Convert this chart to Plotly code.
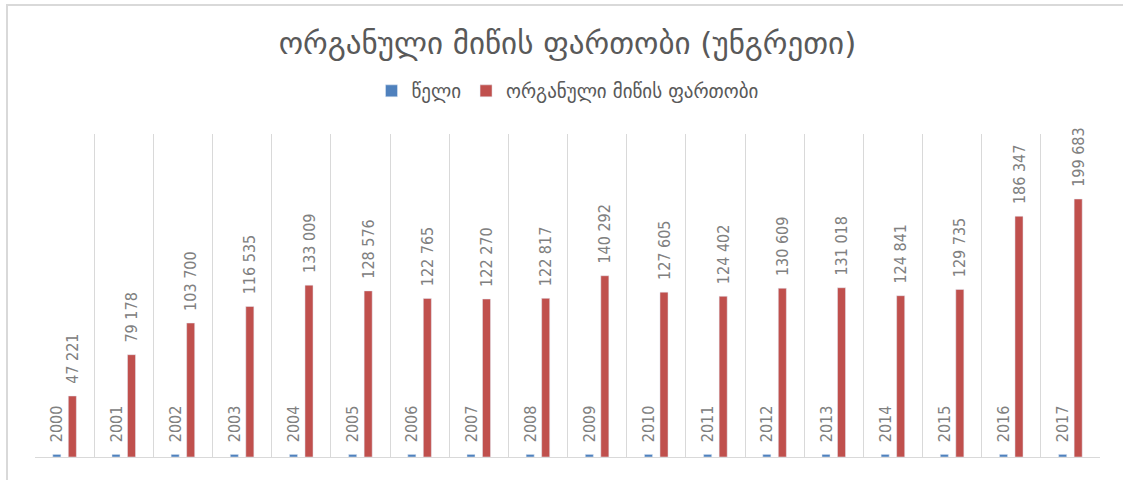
import plotly.graph_objects as go

years = [2000, 2001, 2002, 2003, 2004, 2005, 2006, 2007, 2008,
         2009, 2010, 2011, 2012, 2013, 2014, 2015, 2016, 2017]
area = [47221, 79178, 103700, 116535, 133009, 128576, 122765, 122270, 122817,
        140292, 127605, 124402, 130609, 131018, 124841, 129735, 186347, 199683]

title_text = "ორგანული მიწის ფართობი (უნგრეთი)"
name_year = "წელი"
name_area = "ორგანული მიწის ფართობი"

label_font = dict(family="DejaVu Sans Condensed, DejaVu Sans", size=16, color="#808080")
NB = "\u00a0\u00a0"

fig = go.Figure()
fig.add_trace(go.Bar(
    x=years, y=years, name=name_year, marker_color="#4f81bd",
    text=[NB + str(v) for v in years], textposition="outside", textangle=-90,
    textfont=label_font, cliponaxis=False, constraintext="none",
))
fig.add_trace(go.Bar(
    x=years, y=area, name=name_area, marker_color="#c0504d",
    texttemplate=NB + "%{y:,}", textposition="outside", textangle=-90,
    textfont=label_font, cliponaxis=False, constraintext="none",
))

fig.update_layout(
    width=1123, height=480,
    margin=dict(l=35, r=23, t=134, b=23),
    paper_bgcolor="white", plot_bgcolor="white",
    separators=". ",
    barmode="group", bargap=0.476, bargroupgap=0.48,
    showlegend=True,
    title=dict(text=title_text, x=0.5, xanchor="center", y=1 - 43/480, yanchor="middle",
               xref="paper", yref="container",
               font=dict(family="DejaVu Sans", size=31, color="#595959")),
    legend=dict(orientation="h", x=0.5, xanchor="center", y=1 - 91/480, yanchor="middle",
                xref="paper", yref="container",
                font=dict(family="DejaVu Sans", size=19, color="#595959"),
                traceorder="normal"),
    xaxis=dict(range=[1999.5, 2017.5], tick0=1999.5, dtick=1, showgrid=True,
               gridcolor="#d9d9d9", gridwidth=1, showticklabels=False, ticks="",
               showline=True, linecolor="#d9d9d9", linewidth=1, zeroline=False),
    yaxis=dict(range=[0, 250000], showgrid=False, showticklabels=False,
               zeroline=False, showline=False, ticks=""),
    shapes=[dict(type="rect", xref="paper", yref="paper",
                 x0=(7 - 35) / 1065, x1=1.05, y0=-0.2, y1=(457 - 5) / 323,
                 line=dict(color="#d9d9d9", width=2), fillcolor="rgba(0,0,0,0)",
                 layer="below")],
    hovermode=False,
)

fig.write_html("out.html", config={"displayModeBar": False},
               post_script="document.body.style.margin='0';")
